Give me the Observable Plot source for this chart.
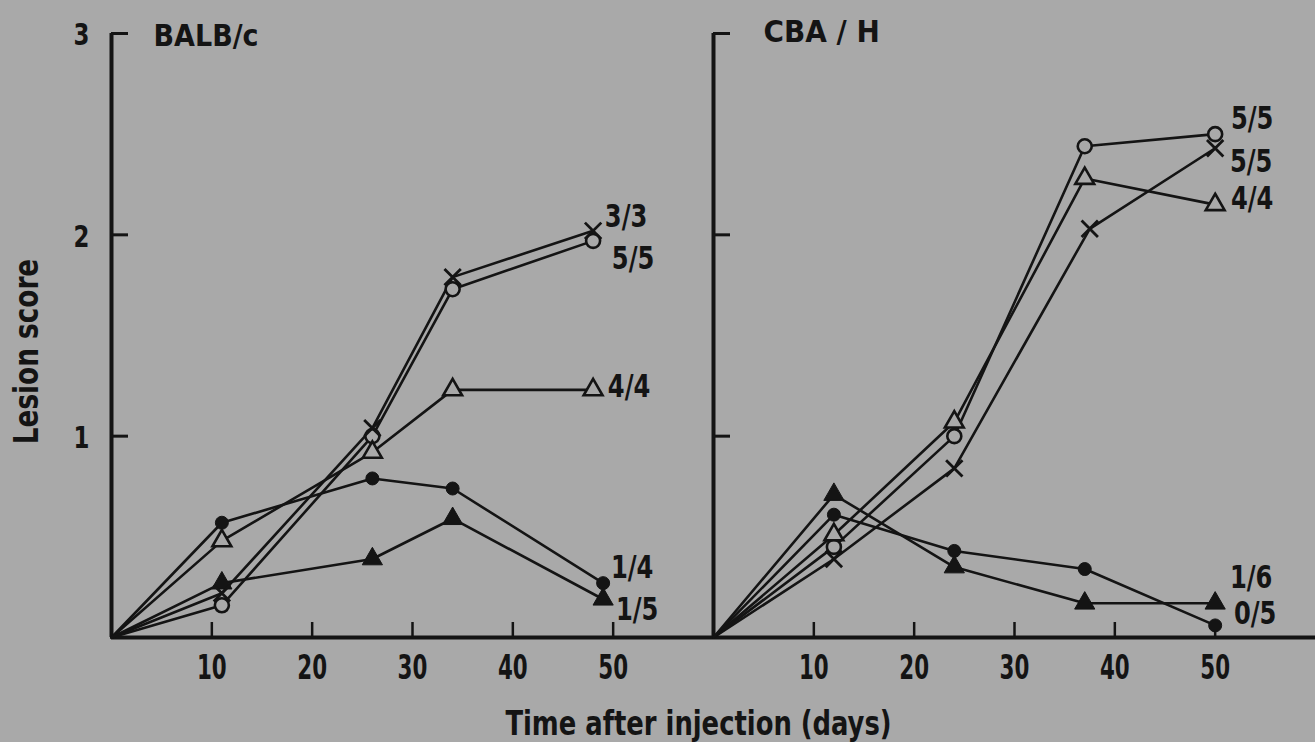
<!DOCTYPE html>
<html><head><meta charset="utf-8">
<script src="https://cdn.jsdelivr.net/npm/d3@7"></script>
<script src="https://cdn.jsdelivr.net/npm/@observablehq/plot@0.6"></script>
<style>
html,body{margin:0;padding:0;background:#a9a9a9;}
#chart{width:1315px;height:742px;}
</style></head><body><div id="chart"></div>
<script>
// ---------- data ----------
const strains = ["BALB/c", "CBA/H"];
const seriesNames = ["cross", "openCircle", "openTriangle", "filledCircle", "filledTriangle"];
const xTicks = [10, 20, 30, 40, 50];
const yTicks = [1, 2, 3];
const yTickLabels = ["1", "2", "3"];
const xLabel = "Time after injection (days)";
const yLabel = "Lesion score";

// BALB/c
const balbCrossDay = [0, 11, 26, 34, 48];
const balbCrossScore = [0, 0.22, 1.04, 1.79, 2.02];
const balbOpenCircleDay = [0, 11, 26, 34, 48];
const balbOpenCircleScore = [0, 0.16, 1.0, 1.73, 1.97];
const balbOpenTriangleDay = [0, 11, 26, 34, 48];
const balbOpenTriangleScore = [0, 0.48, 0.92, 1.23, 1.23];
const balbFilledCircleDay = [0, 11, 26, 34, 49];
const balbFilledCircleScore = [0, 0.57, 0.79, 0.74, 0.27];
const balbFilledTriangleDay = [0, 11, 26, 34, 49];
const balbFilledTriangleScore = [0, 0.27, 0.39, 0.59, 0.19];
const balbEndLabels = ["3/3", "5/5", "4/4", "1/4", "1/5"];

// CBA/H
const cbaCrossDay = [0, 12, 24, 37.5, 50];
const cbaCrossScore = [0, 0.39, 0.84, 2.03, 2.43];
const cbaOpenCircleDay = [0, 12, 24, 37, 50];
const cbaOpenCircleScore = [0, 0.45, 1.0, 2.44, 2.5];
const cbaOpenTriangleDay = [0, 12, 24, 37, 50];
const cbaOpenTriangleScore = [0, 0.51, 1.07, 2.28, 2.15];
const cbaFilledCircleDay = [0, 12, 24, 37, 50];
const cbaFilledCircleScore = [0, 0.61, 0.43, 0.34, 0.06];
const cbaFilledTriangleDay = [0, 12, 24, 37, 50];
const cbaFilledTriangleScore = [0, 0.71, 0.35, 0.17, 0.17];
const cbaEndLabels = ["5/5", "5/5", "4/4", "0/5", "1/6"];

// ---------- table ----------
const rows = [];
function add(strain, series, days, scores) {
  days.forEach((d, i) => rows.push({strain, series, day: d, score: scores[i]}));
}
add(strains[0], "cross", balbCrossDay, balbCrossScore);
add(strains[0], "openCircle", balbOpenCircleDay, balbOpenCircleScore);
add(strains[0], "openTriangle", balbOpenTriangleDay, balbOpenTriangleScore);
add(strains[0], "filledCircle", balbFilledCircleDay, balbFilledCircleScore);
add(strains[0], "filledTriangle", balbFilledTriangleDay, balbFilledTriangleScore);
add(strains[1], "cross", cbaCrossDay, cbaCrossScore);
add(strains[1], "openCircle", cbaOpenCircleDay, cbaOpenCircleScore);
add(strains[1], "openTriangle", cbaOpenTriangleDay, cbaOpenTriangleScore);
add(strains[1], "filledCircle", cbaFilledCircleDay, cbaFilledCircleScore);
add(strains[1], "filledTriangle", cbaFilledTriangleDay, cbaFilledTriangleScore);

// ---------- style ----------
const bg = "#a9a9a9";
const ink = "#141414";
const font = "'DejaVu Sans Condensed', sans-serif";
const W = 1315, H = 742, mL = 111, mT = 33, mB = 105, mR = 0;
const panelW = (W - mL - mR) / 2, frameH = H - mT - mB;

const labelOffsets = {
  "BALB/c": {cross: [33, -14], openCircle: [40, 18], openTriangle: [36, -3], filledCircle: [29, -15], filledTriangle: [34, 11]},
  "CBA/H": {cross: [36, 13], openCircle: [37, -15], openTriangle: [37, -6], filledCircle: [40, -12], filledTriangle: [36, -26]}
};

const pts = (s) => rows.filter(d => d.series === s && d.day > 0);

const endLabelMarks = [];
strains.forEach((st, si) => {
  const labs = si === 0 ? balbEndLabels : cbaEndLabels;
  seriesNames.forEach((s, k) => {
    const r = rows.filter(d => d.strain === st && d.series === s);
    const last = r[r.length - 1];
    const [dx, dy] = labelOffsets[st][s];
    endLabelMarks.push(Plot.text([last], {
      fx: "strain", x: "day", y: "score", text: () => labs[k], dx, dy,
      fontFamily: font, fontWeight: "bold", fontSize: 32, fill: ink,
      textAnchor: "middle", lineAnchor: "middle"
    }));
  });
});

const chart = Plot.plot({
  width: W, height: H,
  marginLeft: mL, marginRight: mR, marginTop: mT, marginBottom: mB,
  style: {background: bg, overflow: "visible"},
  x: {domain: [0, 60], axis: null},
  y: {domain: [0, 3], axis: null},
  fx: {domain: strains, axis: null, padding: 0},
  marks: [
    // axes lines
    Plot.ruleY([0], {stroke: ink, strokeWidth: 4}),
    Plot.ruleX([0], {stroke: ink, strokeWidth: 4}),
    // inward ticks
    Plot.ruleY(yTicks, {y: d => d, insetRight: panelW - 17, stroke: ink, strokeWidth: 3}),
    Plot.ruleX(xTicks, {x: d => d, insetTop: frameH - 15, stroke: ink, strokeWidth: 2.5}),
    // tick labels
    Plot.text(xTicks, {x: d => d, y: 0, dy: 31, text: d => String(d), fontFamily: font, fontWeight: "bold", fontSize: 33, fill: ink, textAnchor: "middle", lineAnchor: "middle"}),
    Plot.text(yTicks, {fx: () => strains[0], x: 0, y: d => d, dx: -30, dy: 2, text: (d, i) => yTickLabels[i], fontFamily: font, fontWeight: "bold", fontSize: 31, fill: ink, textAnchor: "middle", lineAnchor: "middle"}),
    // panel titles
    Plot.text([strains[0]], {fx: d => d, frameAnchor: "top-left", text: d => d, dx: 42, dy: -9, fontFamily: font, fontWeight: "bold", fontSize: 30, fill: ink}),
    Plot.text([strains[1]], {fx: d => d, frameAnchor: "top-left", text: d => d.replace("/", " / "), dx: 50, dy: -14, fontFamily: font, fontWeight: "bold", fontSize: 31, fill: ink}),
    // axis titles
    Plot.text([yLabel], {fx: () => strains[0], frameAnchor: "left", text: d => d, rotate: -90, dx: -84, dy: 16, fontFamily: font, fontWeight: "bold", fontSize: 34, fill: ink, textAnchor: "middle", lineAnchor: "middle"}),
    Plot.text([xLabel], {fx: () => strains[0], frameAnchor: "bottom", text: d => d, dx: 286, dy: 87, fontFamily: font, fontWeight: "bold", fontSize: 33, fill: ink, textAnchor: "middle", lineAnchor: "middle"}),
    // series lines
    Plot.line(rows, {fx: "strain", x: "day", y: "score", z: "series", stroke: ink, strokeWidth: 2.6}),
    // markers
    Plot.dot(pts("openCircle"), {fx: "strain", x: "day", y: "score", symbol: "circle", r: 7, fill: bg, stroke: ink, strokeWidth: 2.6}),
    Plot.dot(pts("openTriangle"), {fx: "strain", x: "day", y: "score", symbol: "triangle", r: 7, fill: bg, stroke: ink, strokeWidth: 2.6}),
    Plot.dot(pts("filledCircle"), {fx: "strain", x: "day", y: "score", symbol: "circle", r: 6.5, fill: ink, stroke: ink, strokeWidth: 1}),
    Plot.dot(pts("filledTriangle"), {fx: "strain", x: "day", y: "score", symbol: "triangle", r: 7.5, fill: ink, stroke: ink, strokeWidth: 1}),
    Plot.dot(pts("cross"), {fx: "strain", x: "day", y: "score", symbol: "times", r: 7.5, stroke: ink, strokeWidth: 2.8}),
    ...endLabelMarks
  ]
});
document.getElementById("chart").append(chart);

// narrow the type to match the condensed lettering of the original
chart.querySelectorAll("text").forEach(t => {
  const s = t.textContent;
  let f = 1;
  if (/^\d+$/.test(s)) f = s.length > 1 ? 0.72 : 0.82;
  else if (/^\d\/\d$/.test(s)) f = 0.84;
  else if (s === xLabel) f = 0.87;
  else if (s === yLabel) f = 0.86;
  if (f !== 1) {
    const L = t.getComputedTextLength();
    t.setAttribute("textLength", (L * f).toFixed(1));
    t.setAttribute("lengthAdjust", "spacingAndGlyphs");
  }
});
</script>
</body></html>
